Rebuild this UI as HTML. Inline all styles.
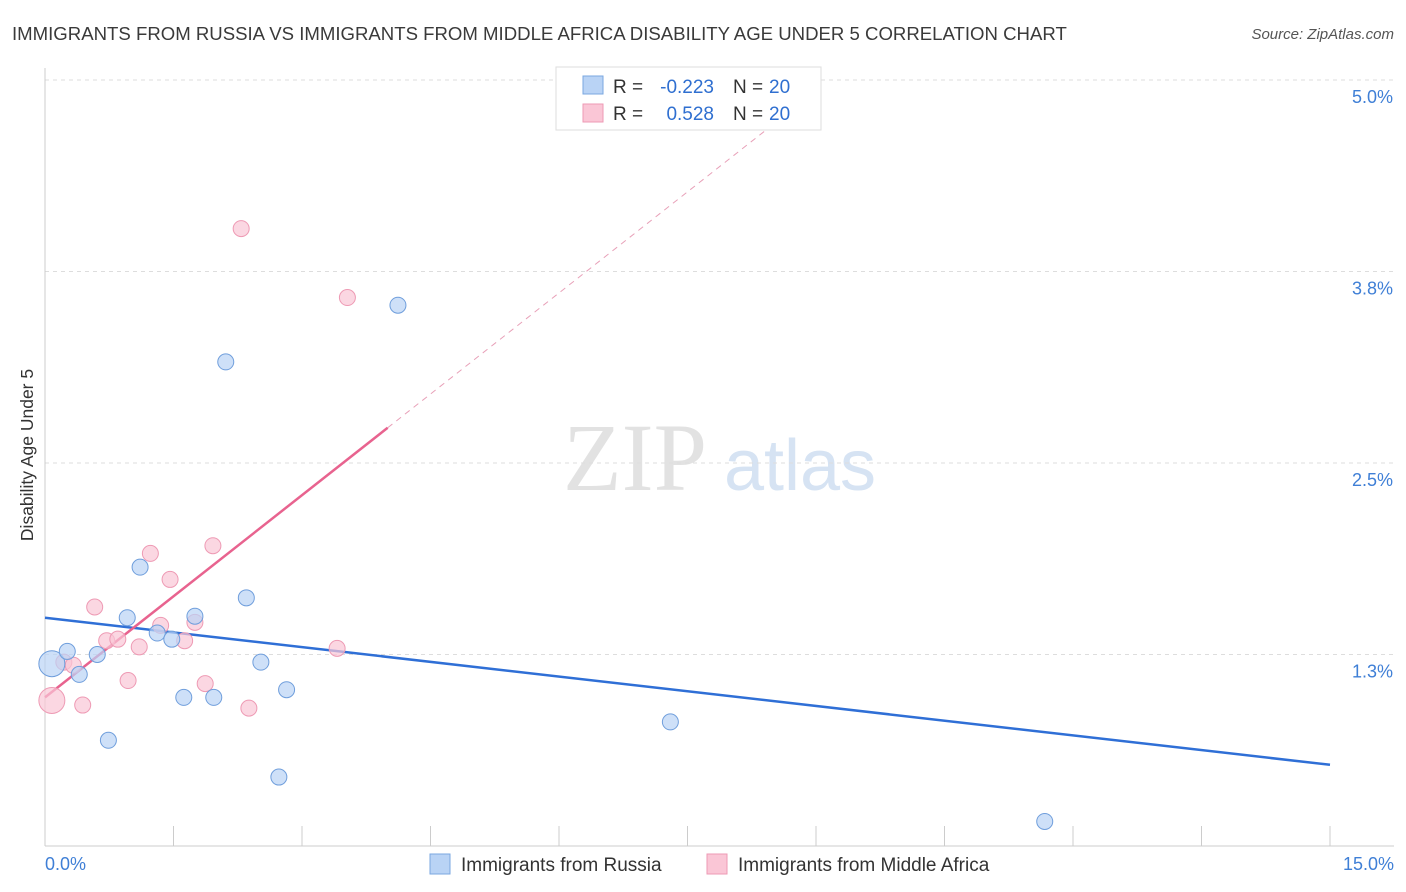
<!DOCTYPE html>
<html><head><meta charset="utf-8"><style>
body{margin:0;background:#fff;font-family:"Liberation Sans",sans-serif;}
svg{display:block}
</style></head><body>
<svg id="c" width="1406" height="892">
<text x="12" y="40" font-size="18.6" fill="#3a3a3a">IMMIGRANTS FROM RUSSIA VS IMMIGRANTS FROM MIDDLE AFRICA DISABILITY AGE UNDER 5 CORRELATION CHART</text>
<text x="1394" y="39" font-size="15" fill="#555" font-style="italic" text-anchor="end">Source: ZipAtlas.com</text>
<text x="33" y="455" font-size="17.5" fill="#333" text-anchor="middle" transform="rotate(-90 33 455)">Disability Age Under 5</text>
<g><text x="635" y="490" font-size="96" fill="#e2e2e2" font-family="Liberation Serif,serif" text-anchor="middle">ZIP</text><text x="800" y="490" font-size="72" fill="#d6e3f3" text-anchor="middle">atlas</text></g>
<g id="grid"></g><g id="axes"></g><g id="trend"></g><g id="pts"></g>
<g>
<rect x="556" y="67" width="265" height="63" fill="#fff" stroke="#ddd"/>
<rect x="583" y="76" width="20" height="18" fill="#b9d3f5" stroke="#7aa7e0"/>
<rect x="583" y="104" width="20" height="18" fill="#fac6d6" stroke="#ee9ab4"/>
<text x="613" y="93" font-size="19" fill="#333">R =</text>
<text x="714" y="93" font-size="19" fill="#2f6fd0" text-anchor="end">-0.223</text>
<text x="733" y="93" font-size="19" fill="#333">N =</text>
<text x="769" y="93" font-size="19" fill="#2f6fd0">20</text>
<text x="613" y="120" font-size="19" fill="#333">R =</text>
<text x="714" y="120" font-size="19" fill="#2f6fd0" text-anchor="end">0.528</text>
<text x="733" y="120" font-size="19" fill="#333">N =</text>
<text x="769" y="120" font-size="19" fill="#2f6fd0">20</text>
</g>
<g>
<rect x="430" y="854" width="20" height="20" fill="#b9d3f5" stroke="#7aa7e0"/>
<text x="461" y="871" font-size="19" fill="#333">Immigrants from Russia</text>
<rect x="707" y="854" width="20" height="20" fill="#fac6d6" stroke="#ee9ab4"/>
<text x="738" y="871" font-size="19" fill="#333">Immigrants from Middle Africa</text>
</g>
</svg>
<script>
const russiaX=[0.08,0.26,0.40,0.61,0.74,0.96,1.11,1.31,1.48,1.62,1.75,1.97,2.11,2.35,2.52,2.73,2.82,4.12,7.30,11.67];
const russiaY=[1.19,1.27,1.12,1.25,0.69,1.49,1.82,1.39,1.35,0.97,1.50,0.97,3.16,1.62,1.20,0.45,1.02,3.53,0.81,0.16];
const africaX=[0.08,0.22,0.33,0.44,0.58,0.72,0.85,0.97,1.10,1.23,1.35,1.46,1.63,1.75,1.87,1.96,2.29,2.38,3.41,3.53];
const africaY=[0.95,1.20,1.18,0.92,1.56,1.34,1.35,1.08,1.30,1.91,1.44,1.74,1.34,1.46,1.06,1.96,4.03,0.90,1.29,3.58];
const yTicks=[1.25,2.5,3.75,5.0];
const yTickLabels=["1.3%","2.5%","3.8%","5.0%"];
const xTicks=[0,1.5,3,4.5,6,7.5,9,10.5,12,13.5,15];
const russiaTrend=[1.49,-0.064];
const africaTrend=[0.97,0.44];
const X=v=>45+v/15*1285, Y=v=>846-v*153.2;
const NS="http://www.w3.org/2000/svg";
function mk(p,t,a){const e=document.createElementNS(NS,t);for(const k in a)e.setAttribute(k,a[k]);document.getElementById(p).appendChild(e);return e;}
yTicks.forEach((v,i)=>{
 const l=mk('grid','line',{x1:45,x2:1394,y1:Y(v),y2:Y(v),stroke:'#ddd','stroke-dasharray':'4 4'});
 
 
 const t=mk('grid','text',{x:1393,y:Y(v)+23,'font-size':18,fill:'#3f7fd6','text-anchor':'end'});
 t.textContent=yTickLabels[i];
 
 
});
let a=mk('axes','line',{x1:45,x2:45,y1:68,y2:846,stroke:'#ccc'});


a=mk('axes','line',{x1:45,x2:1394,y1:846,y2:846,stroke:'#ccc'});


xTicks.forEach(v=>{const t=mk('axes','line',{x1:X(v),x2:X(v),y1:826,y2:846,stroke:'#ccc'});
 
 });
let t=mk('axes','text',{x:45,y:870,'font-size':18,fill:'#3f7fd6'});t.textContent='0.0%';


t=mk('axes','text',{x:1394,y:870,'font-size':18,fill:'#3f7fd6','text-anchor':'end'});t.textContent='15.0%';


let l=mk('trend','line',{x1:X(0),y1:Y(russiaTrend[0]),x2:X(15),y2:Y(russiaTrend[0]+russiaTrend[1]*15),stroke:'#2f6fd6','stroke-width':2.5});


l=mk('trend','line',{x1:X(0),y1:Y(africaTrend[0]),x2:X(4),y2:Y(africaTrend[0]+africaTrend[1]*4),stroke:'#e8638f','stroke-width':2.5});


l=mk('trend','line',{x1:X(4),y1:Y(africaTrend[0]+africaTrend[1]*4),x2:X(9.05),y2:Y(africaTrend[0]+africaTrend[1]*9.05),stroke:'#e8a0b8','stroke-width':1,'stroke-dasharray':'6 5'});


function pts(xs,ys,fill,stroke,name){xs.forEach((x,i)=>{
 const c=mk('pts','circle',{cx:X(x),cy:Y(ys[i]),r:i==0?13:8,fill:fill,'fill-opacity':0.7,stroke:stroke,'stroke-width':1});
 
 });}
pts(africaX,africaY,'#fac6d6','#ee9ab4','africa-point');
pts(russiaX,russiaY,'#b9d3f5','#6f9edc','russia-point');
</script>
</body></html>
